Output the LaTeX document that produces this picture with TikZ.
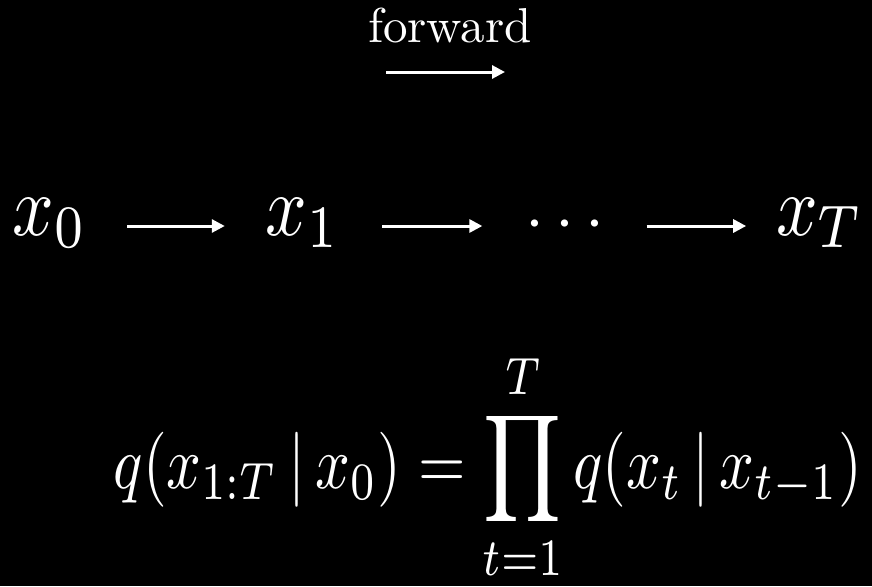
\documentclass[tikz,border=0pt]{standalone}
\usetikzlibrary{arrows.meta}
\tikzset{
  wtxt/.style={text=white, inner sep=0pt, outer sep=0pt},
  bigmath/.style={wtxt, xscale=7.3, yscale=8.6},
  flow/.style={draw=white, line width=3pt, -{Triangle[length=13pt,width=13pt]}},
}
\begin{document}
\begin{tikzpicture}[x=1pt,y=1pt]
\fill[black] (0,0) rectangle (872,-586);
\useasboundingbox (0,0) rectangle (872,-586);
% forward label
\node[wtxt, scale=4.9, anchor=base] (fwd) at (450,-43) {forward};
\coordinate (fa) at (386,-72);
\coordinate (fb) at (505,-72);
\draw[flow] (fa) -- (fb);
% chain
\node[bigmath, anchor=base] (x0) at (50,-235) {$x_0$};
\node[bigmath, anchor=base] (x1) at (303,-235) {$x_1$};
\node[wtxt, scale=6.8] (dots) at (565,-225) {$\cdots$};
\node[bigmath, anchor=base] (xT) at (820,-235) {$x_T$};
\draw[flow] ([yshift=9pt,xshift=40pt]x0.base east) -- ([yshift=9pt,xshift=-41pt]x1.base west);
\draw[flow] ([yshift=9pt,xshift=42pt]x1.base east) -- ([xshift=-43pt]dots.west |- 0,-226);
\draw[flow] ([xshift=42pt]dots.east |- 0,-226) -- ([yshift=9pt,xshift=-30pt]xT.base west);
% formula
\node[wtxt, xscale=6.1, yscale=7.5, anchor=base] (eq) at (488,-488)
  {$\displaystyle q(x_{1:T}\,|\,x_0)=\prod_{t=1}^{T}q(x_t\,|\,x_{t-1})$};
\end{tikzpicture}
\end{document}
